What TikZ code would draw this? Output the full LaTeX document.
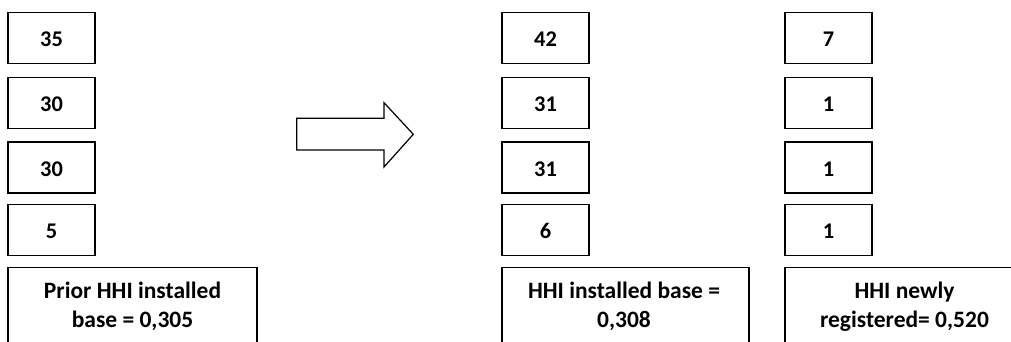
\documentclass[tikz,border=0pt]{standalone}
\usepackage{fontspec}
\setmainfont{Carlito}
\begin{document}
\begin{tikzpicture}[x=1pt,y=-1pt,
  box/.style={draw, line width=1.2pt, minimum width=87pt, minimum height=51pt, inner sep=0pt,
    font=\fontsize{22.4}{26}\selectfont\bfseries, text height=17pt, text depth=0pt},
  lbl/.style={font=\fontsize{23.5}{28.6}\selectfont\bfseries, align=center, inner sep=0pt, anchor=base},
  big/.style={draw, line width=1.2pt, minimum height=120pt, anchor=north, inner sep=0pt}]
\useasboundingbox (0,0) rectangle (1011,341);
\clip (0,0) rectangle (1011,341);
% left column
\node[box] (a1) at (51.5,37.8) {35};
\node[box] (a2) at (51.5,103.3) {30};
\node[box] (a3) at (51.5,167.5) {30};
\node[box] (a4) at (51.5,230) {5};
\node[big, minimum width=249pt] (ab) at (132.5,267) {};
\node[lbl] (abt) at (132.5,327) {Prior HHI installed\\base = 0,305};
% middle column
\node[box] (b1) at (545.5,37.8) {42};
\node[box] (b2) at (545.5,103.3) {31};
\node[box] (b3) at (545.5,167.5) {31};
\node[box] (b4) at (545.5,230) {6};
\node[big, minimum width=247pt] (bb) at (625.5,267) {};
\node[lbl] (bbt) at (624,327) {HHI installed base =\\0,308};
% right column
\node[box] (c1) at (828.5,37.8) {7};
\node[box] (c2) at (828.5,103.3) {1};
\node[box] (c3) at (828.5,167.5) {1};
\node[box] (c4) at (828.5,230) {1};
\node[big, minimum width=238pt] (cb) at (904,267) {};
\node[lbl] (cbt) at (904.5,327) {HHI newly\\registered= 0,520};
% arrow
\draw[line width=1.2pt, line join=miter] (296.7,118.3) -- (384,118.3) -- (384,102.7) -- (413.3,134.3) -- (384,167) -- (384,150) -- (296.7,150) -- cycle;
\end{tikzpicture}
\end{document}
